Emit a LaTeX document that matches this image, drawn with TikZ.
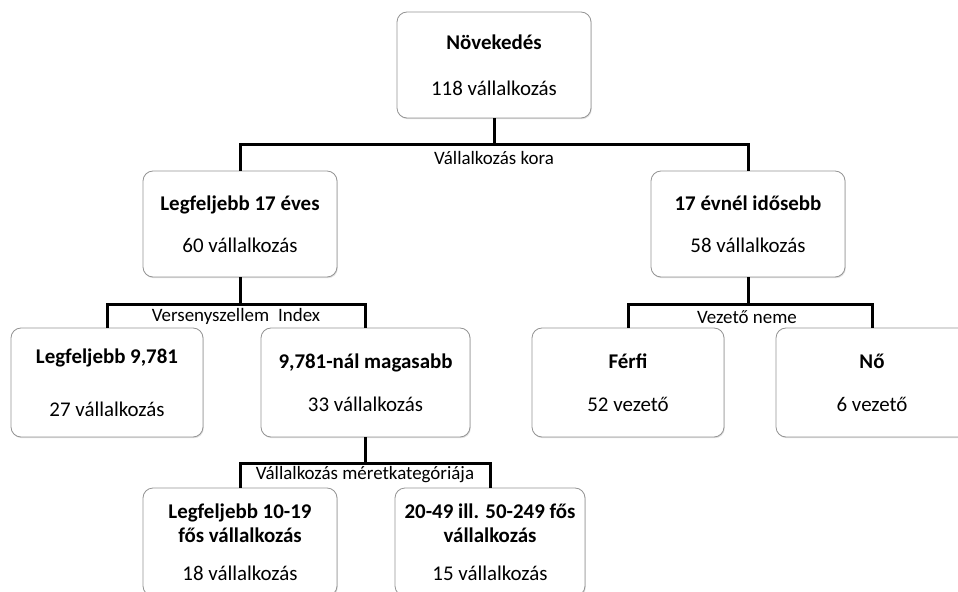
\documentclass[tikz,border=0pt]{standalone}
\usepackage{fontspec}
\setmainfont{Carlito}
\usetikzlibrary{shadows}
\begin{document}
\begin{tikzpicture}[x=1bp,y=-1bp,
  box/.style={draw=black!42, line width=0.8bp, rounded corners=10bp, fill=white,
    drop shadow={shadow xshift=0.8bp, shadow yshift=-1.2bp, opacity=0.25},
    align=center, inner sep=0pt, font=\fontsize{21}{25}\selectfont},
  wd/.style 2 args={minimum width=#1bp, minimum height=#2bp},
  bus/.style={line width=3bp, draw=black},
  lbl/.style={font=\fontsize{19}{23}\selectfont, anchor=base, inner sep=0pt}]
\useasboundingbox (0,0) rectangle (958,592);

% tree nodes
\node[box, wd={194}{106}] (n)  at (494,65)    {\textbf{Növekedés}\\[21bp]118 vállalkozás};
\node[box, wd={194}{106}] (a1) at (240,224)   {\textbf{Legfeljebb 17 éves}\\[17bp]60 vállalkozás};
\node[box, wd={194}{106}] (a2) at (748,224)   {\textbf{17 évnél idősebb}\\[17bp]58 vállalkozás};
\node[box, wd={192}{109}] (b1) at (107,382.5) {\textbf{Legfeljebb 9,781}\\[28bp]27 vállalkozás};
\node[box, wd={209}{109}] (b2) at (365.5,382.5) {\textbf{9,781-nál magasabb}\\[18bp]33 vállalkozás};
\node[box, wd={192}{109}] (c1) at (628,382.5) {\textbf{Férfi}\\[18bp]52 vezető};
\node[box, wd={192}{109}] (c2) at (872,382.5) {\textbf{Nő}\\[18bp]6 vezető};
\node[box, wd={194}{108}] (d1) at (240,542)   {\textbf{Legfeljebb 10-19}\\[-1bp]\textbf{fős vállalkozás}\\[13bp]18 vállalkozás};
\node[box, wd={190}{108}] (d2) at (490,542)   {\textbf{20-49 ill. 50-249 fős}\\[-1bp]\textbf{vállalkozás}\\[13bp]15 vállalkozás};

% junctions of the split lines
\coordinate (j1) at (494,145);
\coordinate (j2) at (240,304);
\coordinate (j3) at (748,304);
\coordinate (j4) at (365.5,463);

% connectors
\draw[bus] (n.south) -- (j1);
\draw[bus] (a1.north) |- (j1) -| (a2.north);
\draw[bus] (a1.south) -- (j2);
\draw[bus] (b1.north) |- (j2) -| (b2.north);
\draw[bus] (a2.south) -- (j3);
\draw[bus] (c1.north) |- (j3) -| (c2.north);
\draw[bus] (b2.south) -- (j4);
\draw[bus] (d1.north) |- (j4) -| (d2.north);

% split labels
\node[lbl] (k1) at (494,165) {Vállalkozás kora};
\node[lbl] (k2) at (236,321) {Versenyszellem\hspace{0.25em} Index};
\node[lbl] (k3) at (747,323) {Vezető neme};
\node[lbl] (k4) at (365,479) {Vállalkozás méretkategóriája};
\end{tikzpicture}
\end{document}
